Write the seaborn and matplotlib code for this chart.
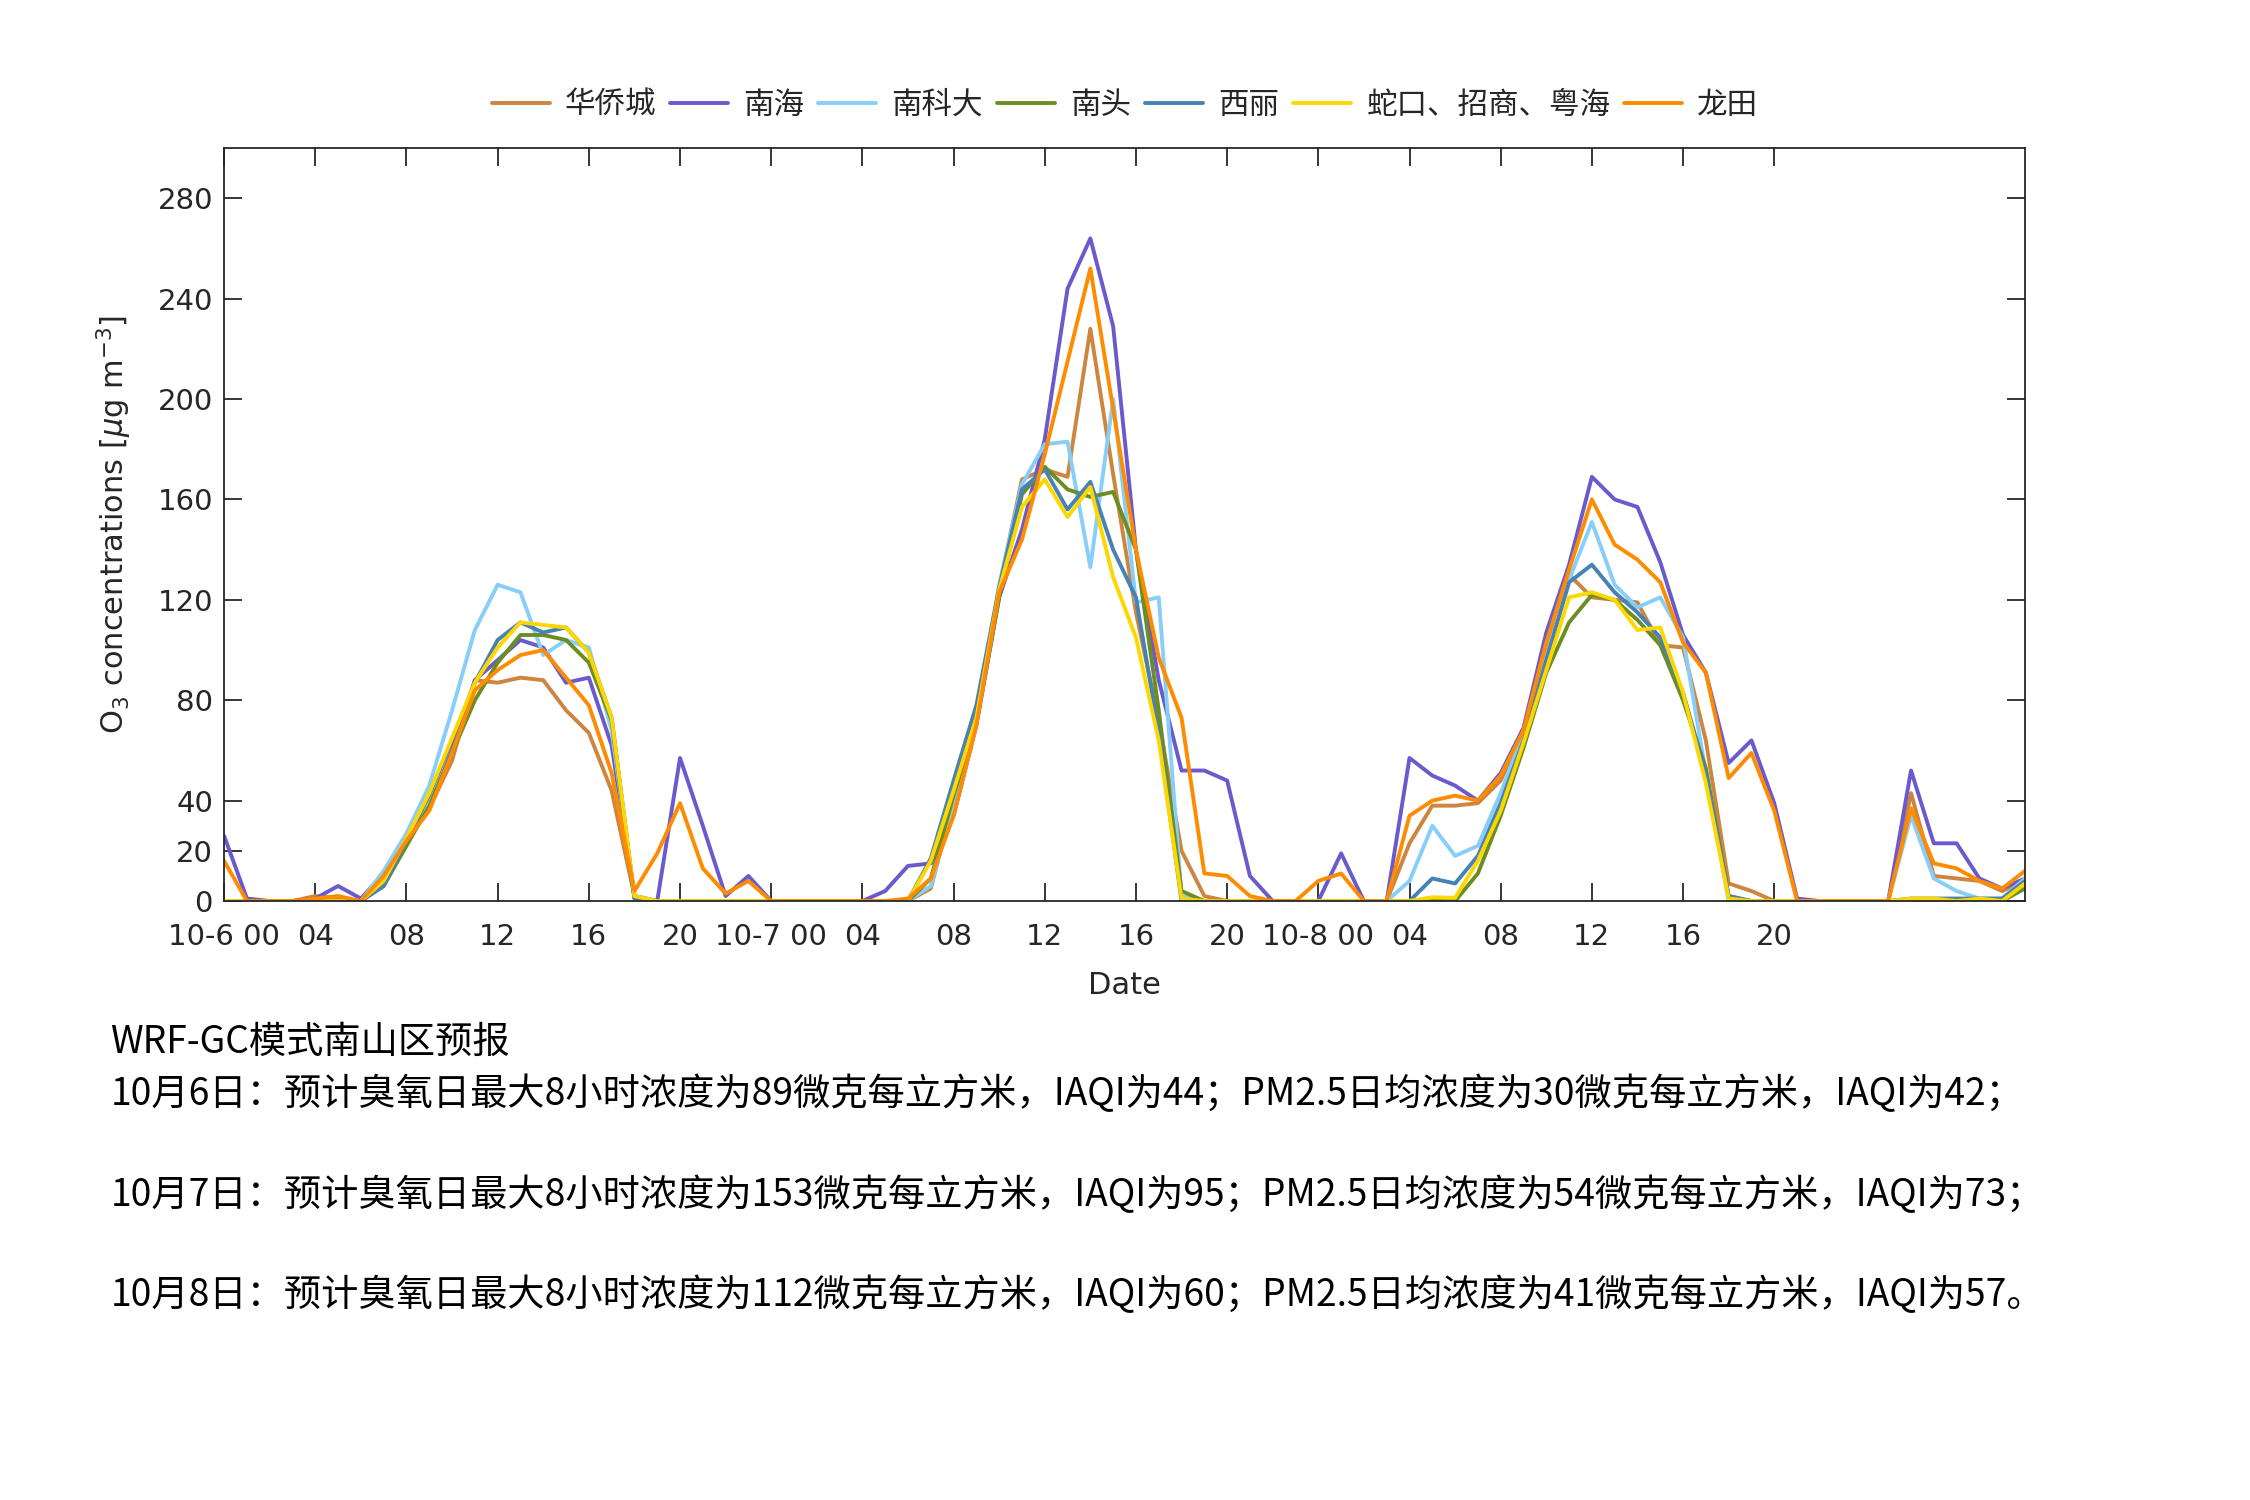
import numpy as np
import pandas as pd
import matplotlib
matplotlib.use("Agg")
import matplotlib.pyplot as plt
import seaborn as sns

# ---------------- data (hourly, 10-6 00 .. 10-9 07) ----------------
stations = ["华侨城", "南海", "南科大", "南头", "西丽", "蛇口、招商、粤海", "龙田"]
colors = ["#CD853F", "#6A5ACD", "#87CEFA", "#6B8E23", "#4682B4", "#FFD700", "#FF8C00"]

huaqiaocheng = [0, 0, 0, 0, 2, 1, 0, 11, 24, 37, 56, 88, 87, 89, 88, 76, 67, 44, 2, 0,
                0, 0, 0, 0, 0, 0, 0, 0, 0, 0, 0, 5, 40, 71, 125, 168, 172, 169, 228, 170,
                115, 72, 20, 2, 0, 0, 0, 0, 0, 0, 0, 0, 23, 38, 38, 39, 48, 68, 99, 130,
                121, 120, 119, 102, 101, 64, 7, 4, 0, 0, 0, 0, 0, 0, 43, 10, 9, 8, 4, 8]
nanhai = [26, 1, 0, 0, 1, 6, 1, 11, 24, 37, 60, 88, 96, 104, 101, 87, 89, 62, 2, 0,
          57, 30, 2, 10, 0, 0, 0, 0, 0, 4, 14, 15, 34, 70, 121, 148, 184, 244, 264, 229,
          140, 88, 52, 52, 48, 10, 0, 0, 0, 19, 0, 0, 57, 50, 46, 40, 51, 69, 107, 134,
          169, 160, 157, 135, 106, 91, 55, 64, 39, 1, 0, 0, 0, 0, 52, 23, 23, 9, 5, 9]
nankeda = [0, 0, 0, 0, 0, 0, 0, 12, 27, 46, 76, 108, 126, 123, 98, 104, 101, 68, 2, 0,
           0, 0, 0, 0, 0, 0, 0, 0, 0, 0, 0, 6, 39, 71, 126, 166, 182, 183, 133, 200,
           119, 121, 2, 0, 0, 0, 0, 0, 0, 0, 0, 0, 8, 30, 18, 22, 43, 67, 97, 128,
           151, 126, 117, 121, 105, 51, 0, 0, 0, 0, 0, 0, 0, 0, 34, 9, 4, 1, 1, 9]
nantou = [0, 0, 0, 0, 0, 0, 0, 6, 22, 38, 59, 80, 95, 106, 106, 104, 95, 72, 1, 0,
          0, 0, 0, 0, 0, 0, 0, 0, 0, 0, 0, 9, 42, 71, 121, 162, 173, 164, 161, 163,
          140, 76, 4, 0, 0, 0, 0, 0, 0, 0, 0, 0, 0, 0, 0, 11, 34, 61, 91, 111,
          122, 120, 112, 102, 80, 53, 2, 0, 0, 0, 0, 0, 0, 0, 0, 0, 0, 0, 0, 5]
xili = [0, 0, 0, 0, 0, 0, 0, 6, 24, 42, 64, 87, 104, 111, 107, 109, 99, 73, 1, 0,
        0, 0, 0, 0, 0, 0, 0, 0, 0, 0, 0, 17, 48, 78, 125, 164, 172, 156, 167, 140,
        121, 67, 0, 0, 0, 0, 0, 0, 0, 0, 0, 0, 0, 9, 7, 18, 39, 64, 96, 127,
        134, 123, 115, 105, 83, 51, 2, 0, 0, 0, 0, 0, 0, 0, 1, 1, 1, 1, 1, 8]
shekou = [0, 0, 0, 0, 0, 0, 0, 8, 25, 43, 65, 87, 101, 111, 110, 109, 99, 73, 2, 0,
          0, 0, 0, 0, 0, 0, 0, 0, 0, 0, 0, 16, 44, 73, 124, 157, 168, 153, 165, 129,
          105, 64, 1, 0, 0, 0, 0, 0, 0, 0, 0, 0, 0, 1.5, 1.3, 16, 36, 63, 92, 121,
          123, 120, 108, 109, 83, 47, 1, 0, 0, 0, 0, 0, 0, 0, 1, 1, 0, 1, 0, 7]
longtian = [16, 0, 0, 0, 1, 2, 0, 10, 24, 36, 59, 84, 92, 98, 100, 89, 78, 51, 4, 19,
            39, 13, 3, 8, 0, 0, 0, 0, 0, 0, 1, 9, 34, 70, 123, 144, 178, 215, 252, 196,
            140, 97, 73, 11, 10, 2, 0, 0, 8, 11, 0, 0, 34, 40, 42, 40, 50, 68, 103, 132,
            160, 142, 136, 127, 103, 91, 49, 59, 36, 0, 0, 0, 0, 0, 37, 15, 13, 8, 5, 12]

series = [huaqiaocheng, nanhai, nankeda, nantou, xili, shekou, longtian]
hours = np.arange(len(huaqiaocheng))

xtick_hours = list(range(0, 72, 4))
xtick_labels = ["10-6 00", "04", "08", "12", "16", "20",
                "10-7 00", "04", "08", "12", "16", "20",
                "10-8 00", "04", "08", "12", "16", "20"]
ytick_values = [0, 20, 40, 80, 120, 160, 200, 240, 280]

text_lines = [
    "WRF-GC模式南山区预报",
    "10月6日：预计臭氧日最大8小时浓度为89微克每立方米，IAQI为44；PM2.5日均浓度为30微克每立方米，IAQI为42；",
    "10月7日：预计臭氧日最大8小时浓度为153微克每立方米，IAQI为95；PM2.5日均浓度为54微克每立方米，IAQI为73；",
    "10月8日：预计臭氧日最大8小时浓度为112微克每立方米，IAQI为60；PM2.5日均浓度为41微克每立方米，IAQI为57。",
]

df = pd.concat(
    [pd.DataFrame({"hour": hours, "O3": vals, "station": name})
     for name, vals in zip(stations, series)],
    ignore_index=True,
)

# ---------------- style ----------------
sns.set_style("ticks")
plt.rcParams["font.family"] = ["DejaVu Sans", "Noto Sans CJK SC"]
plt.rcParams["axes.unicode_minus"] = False

fig = plt.figure(figsize=(22.5, 15), dpi=100)
ax = fig.add_axes([0.0996, 0.3993, 0.8004, 0.502])

sns.lineplot(data=df, x="hour", y="O3", hue="station", hue_order=stations,
             palette=colors, linewidth=2.8, ax=ax, legend=True)

ax.set_xlim(0, 79)
ax.set_ylim(0, 300)
ax.set_xticks(xtick_hours)
ax.set_xticklabels(xtick_labels)
ax.set_yticks(ytick_values)
ax.tick_params(axis="both", which="major", direction="in", length=13, width=1.3,
               top=True, right=True, labelsize=21, colors="#262626")
ax.tick_params(axis="x", pad=16)
ax.tick_params(axis="y", pad=8)
for sp in ax.spines.values():
    sp.set_visible(True)
    sp.set_linewidth(1.3)
    sp.set_color("#262626")

ax.set_xlabel("Date", fontsize=22, color="#262626")
ax.xaxis.set_label_coords(0.5, -0.093)
ax.set_ylabel(r"O$_3$ concentrations [$\mu$g m$^{-3}$]", fontsize=22, color="#262626")
ax.yaxis.set_label_coords(-0.05, 0.5)

handles, labels = ax.get_legend_handles_labels()
ax.get_legend().remove()
fig.legend(handles, labels, loc="center", bbox_to_anchor=(0.5, 0.930), ncol=7,
           frameon=False, prop={"family": ["Noto Sans CJK SC", "DejaVu Sans"], "size": 22},
           handlelength=1.9, handletextpad=0.5, columnspacing=0.45)

ys = [0.305, 0.270, 0.203, 0.136]
for y, t in zip(ys, text_lines):
    fig.text(0.049, y, t, fontsize=26.8, va="center", ha="left", color="black",
             family=["Noto Sans CJK SC", "DejaVu Sans"])

fig.savefig("out.png", dpi=100, facecolor="white")
